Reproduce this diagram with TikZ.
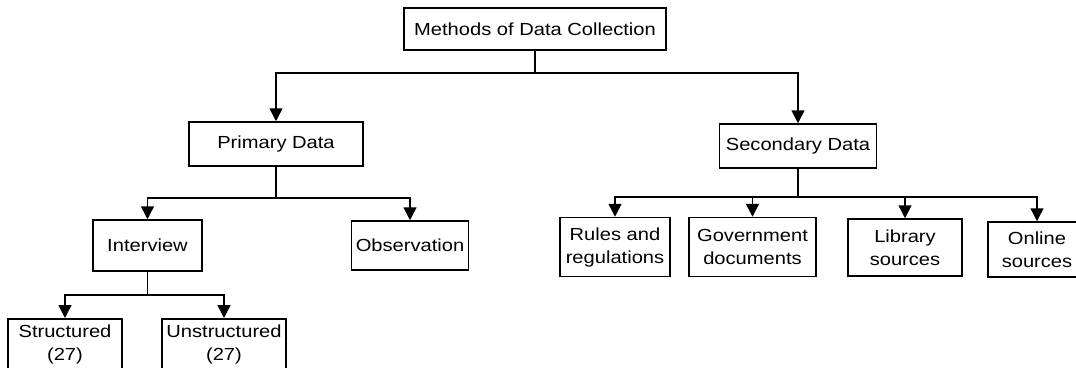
\documentclass[tikz,border=0pt]{standalone}
\usepackage{fontspec}
\setmainfont{Liberation Sans}[FakeStretch=1.15]
\usetikzlibrary{arrows.meta}
\begin{document}
\begin{tikzpicture}[x=1pt,y=-1pt,
  box/.style={draw,line width=1.5pt,inner sep=0pt,align=center,
    font=\fontsize{17.5}{23}\selectfont},
  arr/.style={line width=1.5pt,-{Triangle[length=13pt,width=13pt]}},
  ln/.style={line width=1.5pt}]
\useasboundingbox (0,0) rectangle (1076,367);
\clip (0,0) rectangle (1076,367);
\node[box,minimum width=262pt,minimum height=42pt] (top) at (535,29) {Methods of Data Collection};
\node[box,minimum width=174pt,minimum height=44pt] (prim) at (276,144) {Primary Data};
\node[box,minimum width=157pt,minimum height=44pt] (sec) at (798,146) {Secondary Data};
\node[box,minimum width=109pt,minimum height=51pt] (int) at (147.5,245.5) {Interview};
\node[box,minimum width=117pt,minimum height=49pt] (obs) at (410,245.5) {Observation};
\node[box,minimum width=114pt,minimum height=52pt,anchor=north] (str) at (65,318) {Structured\\(27)};
\node[box,minimum width=124pt,minimum height=52pt,anchor=north] (unstr) at (224,318) {Unstructured\\(27)};
\node[box,minimum width=110pt,minimum height=59pt] (rul) at (615,247) {Rules and\\regulations};
\node[box,minimum width=127pt,minimum height=59pt] (gov) at (752.5,247) {Government\\documents};
\node[box,minimum width=114pt,minimum height=57pt] (lib) at (905,247.5) {Library\\sources};
\node[box,minimum width=98pt,minimum height=55pt] (onl) at (1037,249.5) {Online\\sources};
% connectors
\draw[ln] (top.south) -- ++(0,22) coordinate (b1);
\draw[arr] (b1) -| (prim.north);
\draw[arr] (b1) -| (sec.north);
\draw[ln] (prim.south) -- ++(0,31) coordinate (b2);
\draw[arr] (b2) -| (int.north);
\draw[arr] (b2) -| (obs.north);
\draw[ln] (int.south) -- ++(0,23) coordinate (b3);
\draw[arr] (b3) -| (str.north);
\draw[arr] (b3) -| (unstr.north);
\draw[ln] (sec.south) -- ++(0,28) coordinate (b4);
\draw[arr] (b4) -| (rul.north);
\draw[arr] (b4) -| (gov.north);
\draw[arr] (b4) -| (lib.north);
\draw[arr] (b4) -| (onl.north);
\end{tikzpicture}
\end{document}
